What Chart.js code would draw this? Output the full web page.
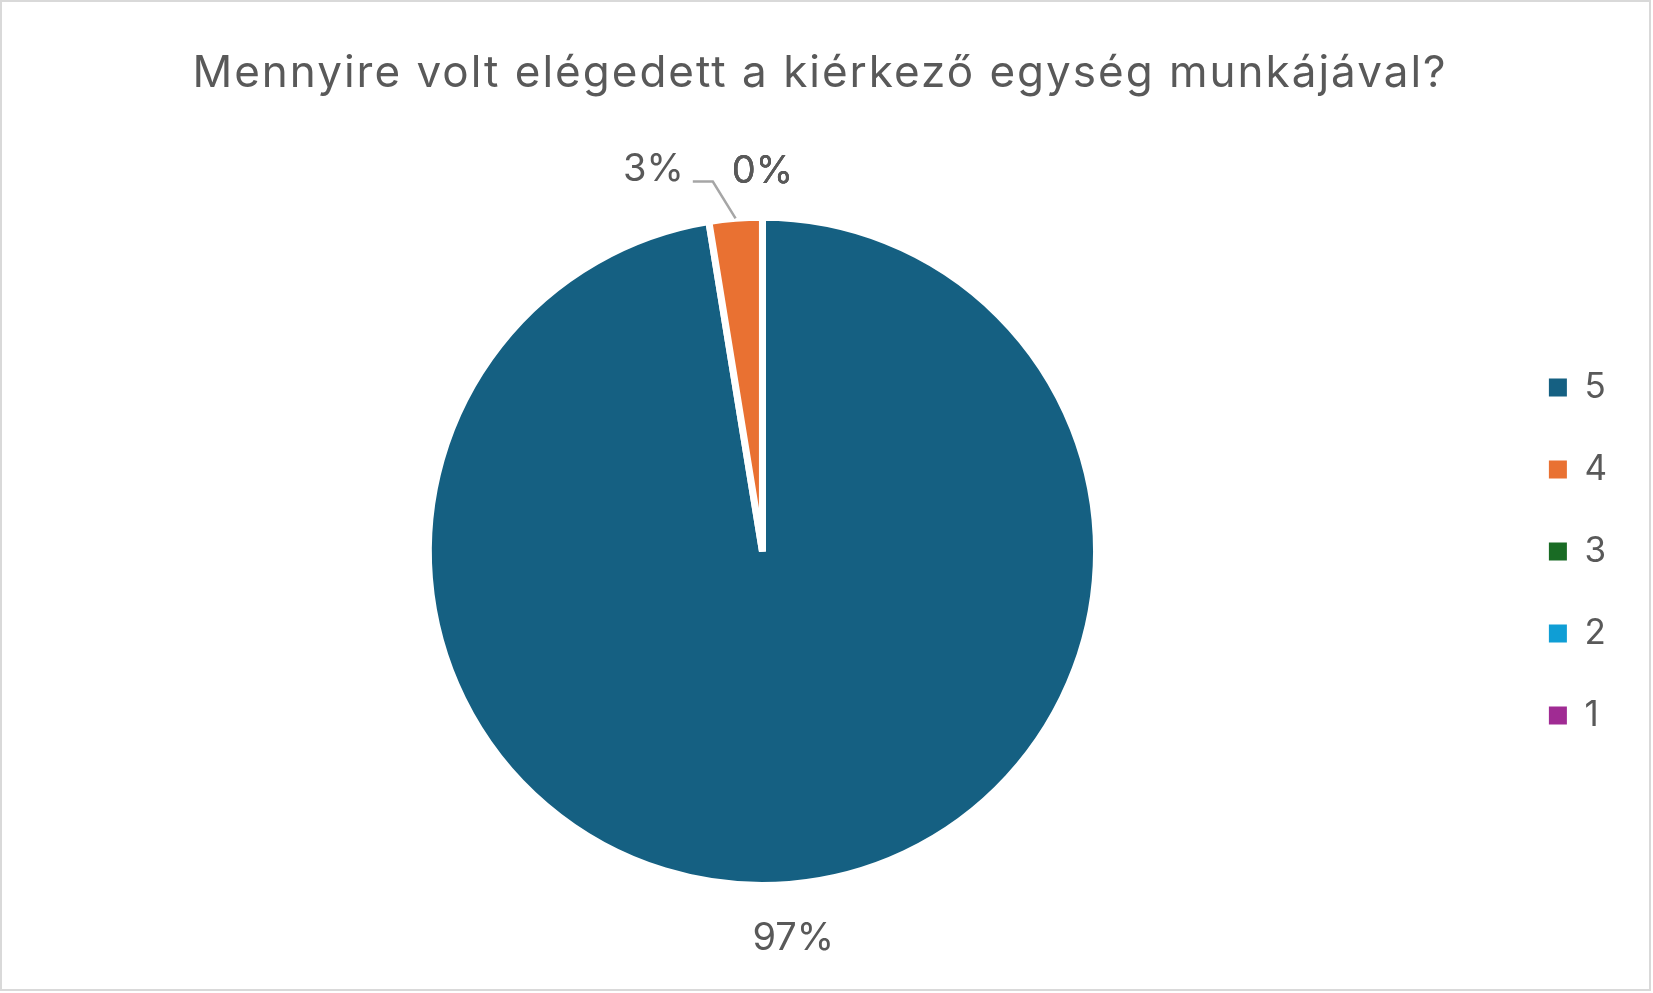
<!DOCTYPE html>
<html>
<head>
<meta charset="utf-8">
<script src="https://cdn.jsdelivr.net/npm/chart.js@4.4.1/dist/chart.umd.min.js"></script>
<style>
  html, body { margin: 0; padding: 0; background: #ffffff; }
  #wrap { width: 1653px; height: 993px; position: relative; }
  canvas { display: block; }
</style>
</head>
<body>
<div id="wrap"><canvas id="c" width="1653" height="993"></canvas></div>
<script>
// ---- data ----
const TITLE = 'Mennyire volt elégedett a kiérkező egység munkájával?';
const categories = ['5', '4', '3', '2', '1'];
const responses = [38, 1, 0, 0, 0];
const sliceColors = ['#156082', '#E97132', '#196B24', '#0F9ED5', '#A02B93'];

// ---- style ----
const FONT = 'Inter, "Open Sans", "DejaVu Sans", sans-serif';
const TEXT_COLOR = '#595959';
const LABEL_SIZE = 38;
const LABEL_GAP = 50;       // distance of data labels beyond the pie edge
const LABEL_BASELINE_SHIFT = 4;
const LABEL_MIN_SPACE = 48; // spacing kept between colliding labels
const LEADER_COLOR = '#A6A6A6';

const total = responses.reduce((a, b) => a + b, 0);

const frame = {
  id: 'frame',
  beforeDraw(chart) {
    const ctx = chart.ctx;
    ctx.save();
    ctx.fillStyle = '#ffffff';
    ctx.fillRect(0, 0, chart.width, chart.height);
    ctx.strokeStyle = '#D9D9D9';
    ctx.lineWidth = 2;
    ctx.strokeRect(1, 1, chart.width - 4, chart.height - 4);
    ctx.restore();
    // wider tracking for the title text (geometric source font is wider)
    ctx.letterSpacing = '2px';
  },
  beforeDatasetsDraw(chart) {
    chart.ctx.letterSpacing = '0px';
  }
};

const pctLabels = {
  id: 'pctLabels',
  afterDatasetsDraw(chart) {
    const ctx = chart.ctx;
    const meta = chart.getDatasetMeta(0);
    ctx.save();
    ctx.letterSpacing = '0px';
    ctx.font = LABEL_SIZE + 'px ' + FONT;
    ctx.textAlign = 'center';
    ctx.textBaseline = 'middle';
    const items = meta.data.map((arc, i) => {
      const p = arc.getProps(['x', 'y', 'startAngle', 'endAngle', 'outerRadius'], true);
      const mid = (p.startAngle + p.endAngle) / 2;
      const r = p.outerRadius + LABEL_GAP;
      const text = Math.round(responses[i] / total * 100) + '%';
      const w = ctx.measureText(text).width;
      return {
        i, text, w,
        x: p.x + Math.cos(mid) * r,
        y: p.y + Math.sin(mid) * r + LABEL_BASELINE_SHIFT,
        ax: p.x + Math.cos(mid) * p.outerRadius,
        ay: p.y + Math.sin(mid) * p.outerRadius,
        shifted: false
      };
    });
    // zero-valued labels are placed first (they stack at the same spot)
    const placed = items.filter(it => responses[it.i] === 0);
    items.filter(it => responses[it.i] !== 0).forEach(it => {
      placed.forEach(o => {
        const overlapX = Math.abs(it.x - o.x) < (it.w + o.w) / 2;
        const overlapY = Math.abs(it.y - o.y) < LABEL_SIZE;
        if (overlapX && overlapY) {
          const right = (o.x - o.w / 2) - LABEL_MIN_SPACE;
          it.x = right - it.w / 2;
          it.y -= 3;
          it.shifted = true;
        }
      });
      placed.push(it);
    });
    items.forEach(it => {
      if (it.shifted) {
        const sx = it.x + it.w / 2 + 9;
        const sy = it.y + 12;
        ctx.strokeStyle = LEADER_COLOR;
        ctx.lineWidth = 2.5;
        ctx.beginPath();
        ctx.moveTo(sx, sy);
        ctx.lineTo(sx + 20, sy);
        ctx.lineTo(it.ax, it.ay);
        ctx.stroke();
      }
    });
    ctx.fillStyle = TEXT_COLOR;
    items.forEach(it => ctx.fillText(it.text, it.x, it.y));
    ctx.restore();
  }
};

new Chart(document.getElementById('c'), {
  type: 'pie',
  data: {
    labels: categories,
    datasets: [{
      data: responses,
      backgroundColor: sliceColors,
      borderColor: '#ffffff',
      borderWidth: 7,
      hoverOffset: 0,
      offset: 0
    }]
  },
  plugins: [frame, pctLabels],
  options: {
    responsive: false,
    animation: false,
    devicePixelRatio: 1,
    layout: { padding: { top: 0, bottom: 104, left: 23, right: 36 } },
    plugins: {
      tooltip: { enabled: false },
      title: {
        display: true,
        text: TITLE,
        color: TEXT_COLOR,
        font: { family: FONT, size: 44, weight: 'normal', lineHeight: 1.2 },
        padding: { top: 47, bottom: 114 }
      },
      legend: {
        position: 'right',
        fullSize: false,
        labels: {
          color: TEXT_COLOR,
          font: { family: FONT, size: 35 },
          boxWidth: 18,
          boxHeight: 18,
          padding: 47,
          generateLabels(chart) {
            const base = Chart.overrides.pie.plugins.legend.labels.generateLabels(chart);
            return base.map(l => Object.assign(l, { lineWidth: 0, strokeStyle: 'rgba(0,0,0,0)' }));
          }
        }
      }
    }
  }
});
</script>
</body>
</html>
